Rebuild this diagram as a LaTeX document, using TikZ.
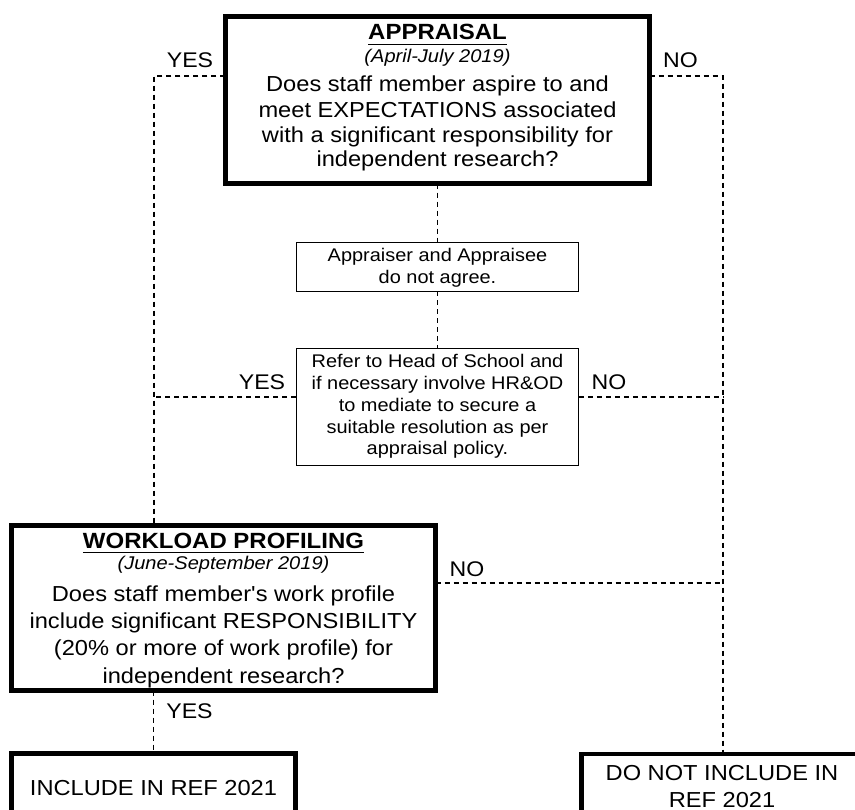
\documentclass[tikz,border=0pt]{standalone}
\usepackage{fontspec}
\setmainfont{Liberation Sans}[FakeStretch=1.09,Ligatures=TeXOff]
\newcommand\fbody{\fontsize{21.7pt}{25pt}\selectfont}
\newcommand\fhead{\fontsize{22pt}{25pt}\selectfont\bfseries}
\newcommand\fdate{\fontsize{18.4pt}{22pt}\selectfont\itshape}
\newcommand\fsmall{\fontsize{18.3pt}{22pt}\selectfont}
\newcommand\flab{\fontsize{21.2pt}{25pt}\selectfont}
\begin{document}
\begin{tikzpicture}[x=1pt,y=-1pt,
  thickbox/.style={draw=black,line width=4.6pt,inner sep=0pt,outer sep=0pt},
  thinbox/.style={draw=black,line width=1.3pt,inner sep=0pt,outer sep=0pt},
  conn/.style={draw=black,line width=1.1pt,dash pattern=on 5pt off 4pt},
  txt/.style={inner sep=0pt,outer sep=0pt,anchor=base,text=black},
  ul/.style={draw=black,line width=1.5pt}]
\useasboundingbox (0,0) rectangle (855,810);
\clip (0,0) rectangle (855,810);

% boxes
\node[thickbox,minimum width=424.4pt,minimum height=167.4pt] (appr) at (437.5,100) {};
\node[thinbox,minimum width=282.6pt,minimum height=48.6pt] (disagree) at (437.5,267) {};
\node[thinbox,minimum width=282.6pt,minimum height=116.6pt] (refer) at (437.5,407) {};
\node[thickbox,minimum width=424.4pt,minimum height=165.4pt] (work) at (223.5,608) {};
\node[thickbox,minimum width=284.4pt,minimum height=76.7pt] (incl) at (153.5,791.6) {};
\node[thickbox,minimum width=281.4pt,minimum height=75.7pt] (dni) at (722,792) {};

% appraisal text
\node[txt] (ah) at (437.5,40) {\fhead APPRAISAL};
\draw[ul] ([yshift=-4.5pt]ah.base west) -- ([yshift=-4.5pt]ah.base east);
\node[txt] (ad) at (437.5,63) {\fdate (April-July 2019)};
\node[txt] (a1) at (437.5,92) {\fbody Does staff member aspire to and};
\node[txt] (a2) at (437.5,117.3) {\fbody meet EXPECTATIONS associated};
\node[txt] (a3) at (437.5,142.2) {\fbody with a significant responsibility for};
\node[txt] (a4) at (437.5,167) {\fbody independent research?};

% disagree text
\node[txt] (d1) at (437.5,261.5) {\fsmall Appraiser and Appraisee};
\node[txt] (d2) at (437.5,283.5) {\fsmall do not agree.};

% refer text
\node[txt] (r1) at (437.5,368) {\fsmall Refer to Head of School and};
\node[txt] (r2) at (437.5,390) {\fsmall if necessary involve HR\&OD};
\node[txt] (r3) at (437.5,411.5) {\fsmall to mediate to secure a};
\node[txt] (r4) at (437.5,433.5) {\fsmall suitable resolution as per};
\node[txt] (r5) at (437.5,455) {\fsmall appraisal policy.};

% workload text
\node[txt] (wh) at (223.5,548) {\fhead WORKLOAD PROFILING};
\draw[ul] ([yshift=-4.5pt]wh.base west) -- ([yshift=-4.5pt]wh.base east);
\node[txt] (wd) at (223.5,569) {\fdate (June-September 2019)};
\node[txt] (w1) at (223.5,601) {\fbody Does staff member's work profile};
\node[txt] (w2) at (223.5,628.3) {\fbody include significant RESPONSIBILITY};
\node[txt] (w3) at (223.5,655.6) {\fbody (20\% or more of work profile) for};
\node[txt] (w4) at (223.5,683) {\fbody independent research?};

% outcome text
\node[txt] (i1) at (153.5,795) {\fbody INCLUDE IN REF 2021};
\node[txt] (n1) at (722,780) {\fbody DO NOT INCLUDE IN};
\node[txt] (n2) at (722,807) {\fbody REF 2021};

% labels
\node[txt] (yes1) at (190,68) {\flab YES};
\node[txt] (no1) at (680.5,68) {\flab NO};
\node[txt] (yes2) at (262,390) {\flab YES};
\node[txt] (no2) at (609,390) {\flab NO};
\node[txt] (no3) at (467,576) {\flab NO};
\node[txt] (yes3) at (189.5,718) {\flab YES};

% connector corners
\coordinate (tl) at (154,76);
\coordinate (tr) at (723,76);
\coordinate (ml) at (154,397);
\coordinate (mr) at (723,397);
\coordinate (wr) at (723,583);

% connectors
\draw[conn] (tl -| appr.west) -- (tl) -- (tl |- work.north);
\draw[conn] (tr -| appr.east) -- (tr) -- (tr |- dni.north);
\draw[conn] (appr.south) -- (disagree.north);
\draw[conn] (disagree.south) -- (refer.north);
\draw[conn] (ml -| refer.west) -- (ml);
\draw[conn] (mr -| refer.east) -- (mr);
\draw[conn] (wr -| work.east) -- (wr);
\draw[conn] (work.south -| incl.north) -- (incl.north);
\end{tikzpicture}
\end{document}
